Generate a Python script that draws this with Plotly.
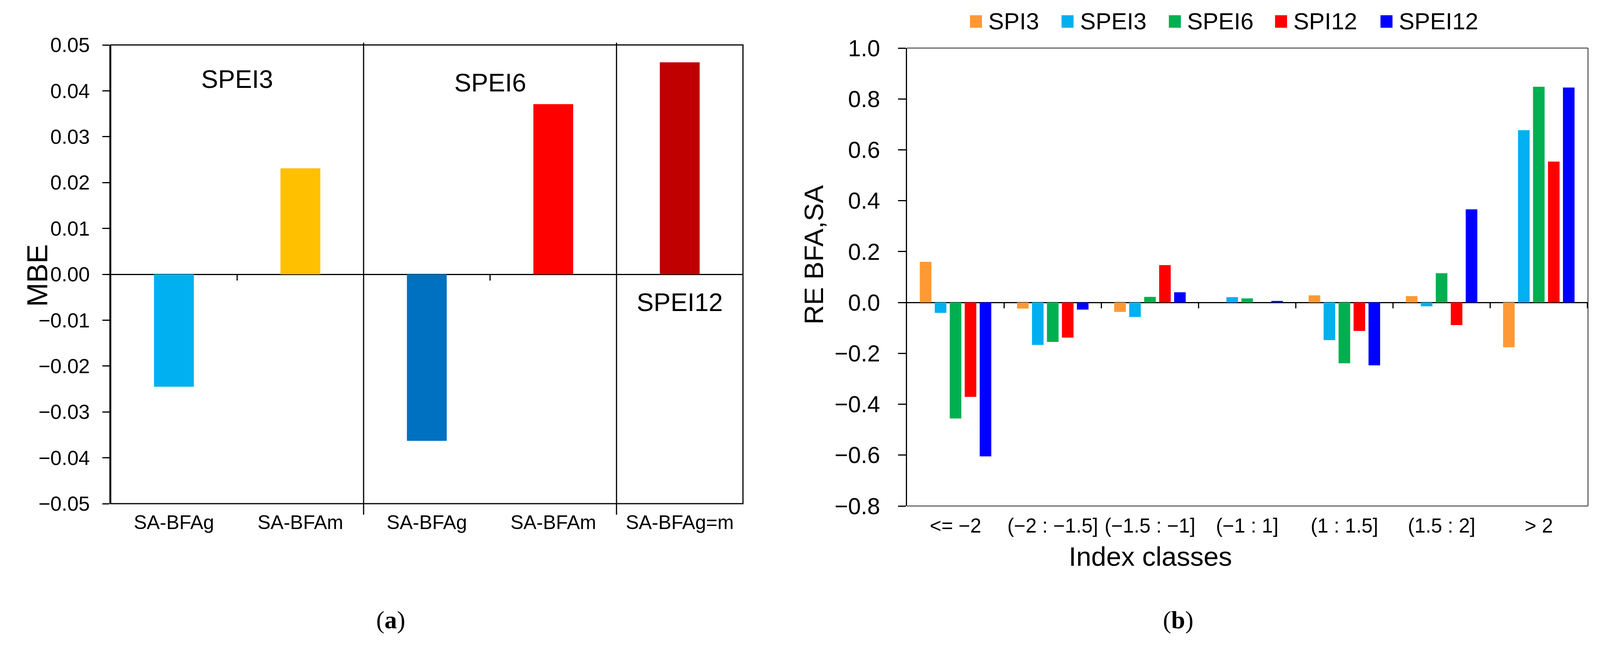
"""MBE (a) and relative error per index class (b) bar charts"""
import plotly.graph_objects as go

# reference size, and the page area the browser really shows (4096 wide,
# the figure sits 8 px in because of the body margin)
REF_W, REF_H = 4264, 1684
VIEW_W = 4096
OFF = 8
W, H = VIEW_W - OFF, REF_H - OFF

# ---- panel (a) data
mbe_labels = ["SA-BFAg", "SA-BFAm", "SA-BFAg", "SA-BFAm", "SA-BFAg=m"]
mbe_values = [-0.0245, 0.0231, -0.0363, 0.0371, 0.0462]
mbe_colors = ["#00B0F0", "#FFC000", "#0070C0", "#FF0000", "#C00000"]
mbe_groups = ["SPEI3", "SPEI6", "SPEI12"]
mbe_group_sizes = [2, 2, 1]
mbe_ticks = [-0.05, -0.04, -0.03, -0.02, -0.01, 0.0, 0.01, 0.02, 0.03, 0.04, 0.05]

# ---- panel (b) data
classes = ["<= −2", "(−2 : −1.5]", "(−1.5 : −1]", "(−1 : 1]",
           "(1 : 1.5]", "(1.5 : 2]", "> 2"]
spi3 = [0.160, -0.024, -0.037, 0.0, 0.028, 0.025, -0.176]
spei3 = [-0.041, -0.167, -0.057, 0.021, -0.148, -0.015, 0.677]
spei6 = [-0.456, -0.155, 0.022, 0.016, -0.239, 0.115, 0.848]
spi12 = [-0.371, -0.138, 0.147, 0.0, -0.112, -0.089, 0.554]
spei12 = [-0.605, -0.028, 0.040, 0.006, -0.247, 0.366, 0.845]
series_names = ["SPI3", "SPEI3", "SPEI6", "SPI12", "SPEI12"]
series_colors = ["#FF9933", "#00B0F0", "#00B050", "#FF0000", "#0000FF"]
re_ticks = [-0.8, -0.6, -0.4, -0.2, 0.0, 0.2, 0.4, 0.6, 0.8, 1.0]

FONT = "Liberation Sans"


def px(x):
    """reference pixel -> paper x"""
    return (x * VIEW_W / REF_W - OFF) / W


def py(y):
    """reference pixel (from top) -> paper y"""
    return 1 - (y - OFF) / H


fig = go.Figure()

# panel (a) bars
fig.add_trace(go.Bar(x=list(range(len(mbe_values))), y=mbe_values,
                     marker_color=mbe_colors, marker_line_width=0,
                     width=0.315, xaxis="x", yaxis="y", showlegend=False))

# panel (b) bars
for name, vals, col in zip(series_names, [spi3, spei3, spei6, spi12, spei12],
                           series_colors):
    fig.add_trace(go.Bar(x=classes, y=vals, name=name, marker_color=col,
                         marker_line_width=0, xaxis="x2", yaxis="y2",
                         showlegend=False))

shapes = []
annotations = []

# frame (a)
shapes.append(dict(type="rect", xref="x domain", yref="y domain",
                   x0=0, x1=1, y0=0, y1=1, line=dict(color="black", width=3)))
# group dividers and zero-axis ticks (a)
pos = -0.5
boundaries = []
for size in mbe_group_sizes[:-1]:
    pos += size
    boundaries.append(pos)
for b in boundaries:
    shapes.append(dict(type="line", xref="x", yref="y domain", x0=b, x1=b,
                       y0=-0.024, y1=1.005, line=dict(color="black", width=3)))
for i in range(len(mbe_labels) - 1):
    b = i + 0.5
    if b not in boundaries:
        shapes.append(dict(type="line", xref="x", yref="y", x0=b, x1=b,
                           ysizemode="pixel", yanchor=0, y0=0, y1=-16,
                           line=dict(color="black", width=3)))

# group labels (a)
group_pos = [(0.5, 164), (2.5, 173), (4, 773)]
for name, (gx, gy) in zip(mbe_groups, group_pos):
    annotations.append(dict(text=name, x=gx, xref="x", y=py(gy), yref="paper",
                            showarrow=False, font=dict(size=65, family=FONT,
                                                       color="black")))

# frame (b): top, right, bottom in grey, left is the y axis line
for x0, x1, y0, y1 in [(0, 1, 1, 1), (1, 1, 0, 1), (0, 1, 0, 0)]:
    shapes.append(dict(type="line", xref="x2 domain", yref="y2 domain",
                       x0=x0, x1=x1, y0=y0, y1=y1,
                       line=dict(color="#4a4a4a", width=2.5)))
for i in range(len(classes)):
    shapes.append(dict(type="line", xref="x2", yref="y2", x0=i + 0.5,
                       x1=i + 0.5, ysizemode="pixel", yanchor=0, y0=0, y1=-15,
                       line=dict(color="black", width=3)))

# custom legend (b)
legend_x = [2585, 2829, 3115, 3398, 3679]
for name, col, lx in zip(series_names, series_colors, legend_x):
    shapes.append(dict(type="rect", xref="paper", yref="paper",
                       x0=px(lx), x1=px(lx + 32), y0=py(71), y1=py(39),
                       fillcolor=col, line=dict(width=0)))
    annotations.append(dict(text=name, x=px(lx + 47), y=py(55), xref="paper",
                            yref="paper", xanchor="left", yanchor="middle",
                            showarrow=False,
                            font=dict(size=60, family=FONT, color="black")))

# axis titles and panel letters
annotations += [
    dict(text="MBE", x=px(55), y=py(705), textangle=-90),
    dict(text="RE BFA,SA", x=px(2168), y=py(652), textangle=-90,
         font=dict(size=69, family=FONT, color="black")),
    dict(text="Index classes", x=px(3285), y=py(1465),
         font=dict(size=69, family=FONT, color="black")),
    dict(text="(<b>a</b>)", x=px(1000), y=py(1624),
         font=dict(size=64, family="Liberation Serif", color="black")),
    dict(text="(<b>b</b>)", x=px(3182), y=py(1624),
         font=dict(size=64, family="Liberation Serif", color="black")),
]
for a in annotations:
    a.setdefault("xref", "paper")
    a.setdefault("yref", "paper")
    a.setdefault("showarrow", False)
    a.setdefault("font", dict(size=74, family=FONT, color="black"))

fig.update_layout(
    width=W, height=H,
    margin=dict(l=0, r=0, t=0, b=0),
    paper_bgcolor="white", plot_bgcolor="white",
    barmode="group", bargap=0.23, bargroupgap=0.225,
    font=dict(family=FONT, color="black"),
    showlegend=False,
    xaxis=dict(domain=[px(295), px(1980)], range=[-0.5, 4.5], anchor="y",
               tickvals=list(range(len(mbe_labels))), ticktext=mbe_labels,
               ticks="", showline=False, showgrid=False, zeroline=False,
               tickfont=dict(size=50), ticklabelstandoff=14,
               automargin=False),
    yaxis=dict(domain=[py(1289), py(115)], range=[-0.05, 0.05], anchor="x",
               tickvals=mbe_ticks, tickformat=".2f", ticks="outside",
               ticklen=18, tickwidth=3, tickcolor="black", showline=True,
               linewidth=3, linecolor="black", showgrid=False,
               zeroline=True, zerolinecolor="black", zerolinewidth=3,
               tickfont=dict(size=52), ticklabelstandoff=22,
               automargin=False),
    xaxis2=dict(domain=[px(2417), px(4232)], anchor="y2", type="category",
                ticks="", showline=False, showgrid=False, zeroline=False,
                tickfont=dict(size=51), ticklabelstandoff=16,
                automargin=False),
    yaxis2=dict(domain=[py(1295), py(123)], range=[-0.8, 1.0], anchor="x2",
                tickvals=re_ticks, tickformat=".1f", ticks="outside",
                ticklen=20, tickwidth=3, tickcolor="black", showline=True,
                linewidth=3, linecolor="black", showgrid=False,
                zeroline=True, zerolinecolor="black", zerolinewidth=3,
                tickfont=dict(size=59), ticklabelstandoff=34,
                automargin=False),
    shapes=shapes,
    annotations=annotations,
)

fig.write_html("out.html")
